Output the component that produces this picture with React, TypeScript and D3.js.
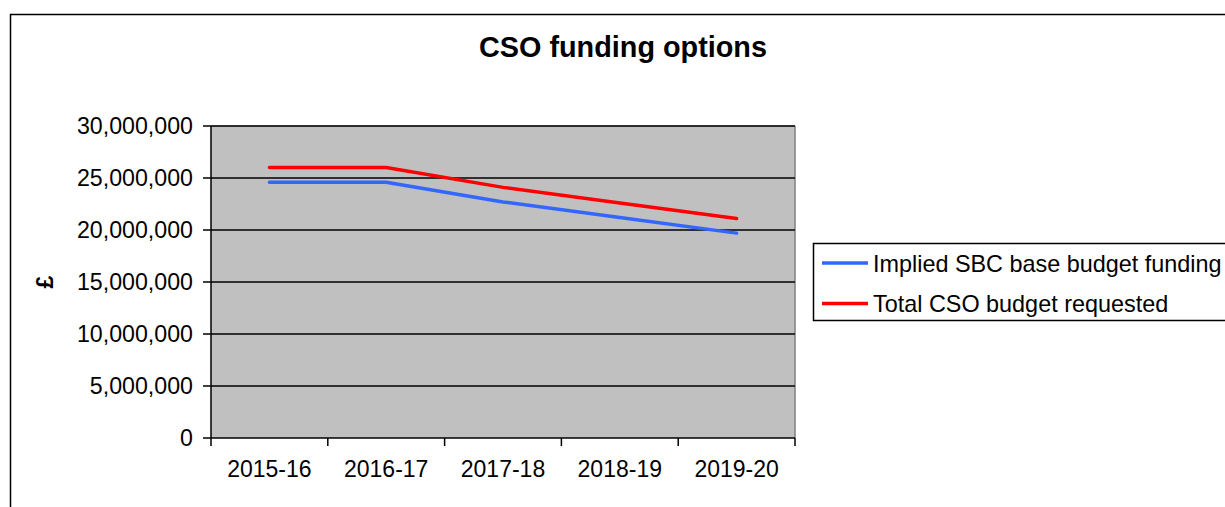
import React from "react";
import * as d3 from "d3";

const categories = ["2015-16", "2016-17", "2017-18", "2018-19", "2019-20"];
const impliedSBC = [24600000, 24600000, 22700000, 21200000, 19700000];
const totalCSO = [26000000, 26000000, 24100000, 22600000, 21100000];
const yTicks = [0, 5000000, 10000000, 15000000, 20000000, 25000000, 30000000];
const seriesNames = ["Implied SBC base budget funding", "Total CSO budget requested"];
const seriesColors = ["#3366FF", "#FF0000"];

export default function App() {
  const W = 1225, H = 507;
  const left = 211, right = 795, top = 126, bottom = 438;
  const x = d3.scaleBand<string>().domain(categories).range([left, right]).padding(0);
  const y = d3.scaleLinear().domain([0, 30000000]).range([bottom, top]);
  const fmt = d3.format(",");
  const line = d3
    .line<number>()
    .x((_, i) => (x(categories[i]) as number) + x.bandwidth() / 2)
    .y((d) => y(d));
  const series = [impliedSBC, totalCSO];
  const font = "Arial, 'Liberation Sans', sans-serif";

  return (
    <svg
      width={W}
      height={H}
      style={{ position: "absolute", left: 0, top: 0, background: "#fff" }}
      fontFamily={font}
    >
      <rect x={10.5} y={14.5} width={1300} height={600} fill="#fff" stroke="#000" strokeWidth={1.5} />
      <text x={623} y={57} textAnchor="middle" fontSize={28.8} fontWeight="bold" fill="#000">
        CSO funding options
      </text>
      <rect x={left} y={top} width={right - left} height={bottom - top} fill="#C0C0C0" />
      <line x1={right} x2={right} y1={top} y2={bottom} stroke="#808080" strokeWidth={1.5} />
      <line x1={left} x2={right} y1={top} y2={top} stroke="#808080" strokeWidth={1} />
      {yTicks.map((t) => (
        <g key={t}>
          {t > 0 && (
            <line x1={left} x2={right} y1={y(t)} y2={y(t)} stroke="#000" strokeWidth={1.5} />
          )}
          <line x1={left - 8} x2={left} y1={y(t)} y2={y(t)} stroke="#000" strokeWidth={1.5} />
          <text x={193} y={y(t)} dy="0.36em" textAnchor="end" fontSize={23.2} fill="#000">
            {fmt(t)}
          </text>
        </g>
      ))}
      <line x1={left} x2={left} y1={top} y2={bottom} stroke="#000" strokeWidth={1.5} />
      <line x1={left} x2={right} y1={bottom} y2={bottom} stroke="#000" strokeWidth={1.5} />
      {categories.map((c, i) => (
        <g key={c}>
          <line
            x1={x(c) as number}
            x2={x(c) as number}
            y1={bottom}
            y2={bottom + 8}
            stroke="#000"
            strokeWidth={1.5}
          />
          {i === categories.length - 1 && (
            <line x1={right} x2={right} y1={bottom} y2={bottom + 8} stroke="#000" strokeWidth={1.5} />
          )}
          <text
            x={(x(c) as number) + x.bandwidth() / 2}
            y={477}
            textAnchor="middle"
            fontSize={23}
            fill="#000"
          >
            {c}
          </text>
        </g>
      ))}
      <text
        transform="translate(53,282) rotate(-90)"
        textAnchor="middle"
        fontSize={23}
        fontWeight="bold"
        fill="#000"
      >
        £
      </text>
      {series.map((s, i) => (
        <path
          key={i}
          d={line(s) as string}
          fill="none"
          stroke={seriesColors[i]}
          strokeWidth={3.5}
          strokeLinejoin="round"
          strokeLinecap="round"
        />
      ))}
      <rect x={813.5} y={243.5} width={500} height={77} fill="#fff" stroke="#000" strokeWidth={1.5} />
      {seriesNames.map((n, i) => {
        const ly = 263 + i * 40.5;
        return (
          <g key={n}>
            <line x1={822} x2={868} y1={ly} y2={ly} stroke={seriesColors[i]} strokeWidth={3.5} />
            <text x={873} y={ly + 8.5} fontSize={23.4} fill="#000">
              {n}
            </text>
          </g>
        );
      })}
    </svg>
  );
}
